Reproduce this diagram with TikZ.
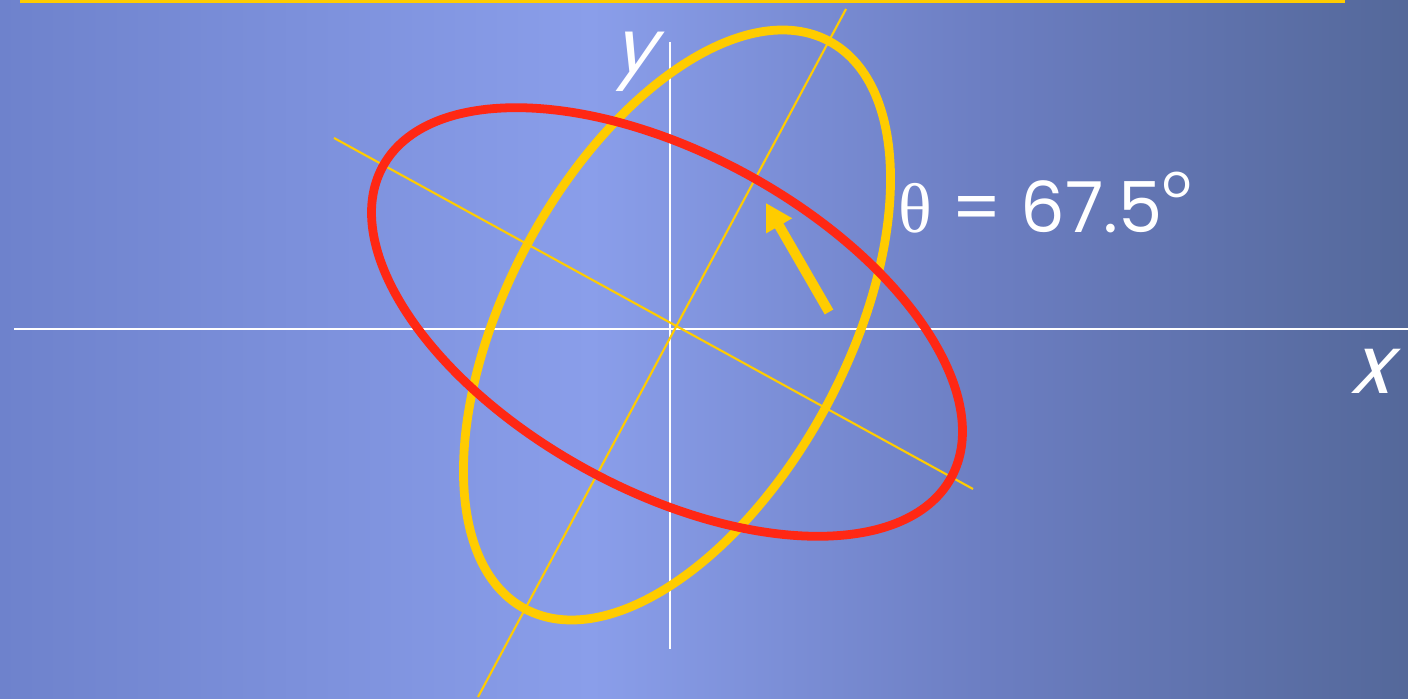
\documentclass[tikz,border=0pt]{standalone}
\usepackage{fontspec}
\usetikzlibrary{arrows.meta}
\newfontfamily\handfont{Poppins}
\newfontfamily\slantfont[FakeSlant=0.3]{Poppins}
\newfontfamily\greekfont{Liberation Serif}
\definecolor{bgA}{RGB}{110,130,204}
\definecolor{bgB}{RGB}{138,158,234}
\definecolor{bgC}{RGB}{108,126,194}
\definecolor{bgD}{RGB}{84,104,154}
\definecolor{ringyellow}{RGB}{255,204,0}
\definecolor{ringred}{RGB}{255,40,20}
\pgfdeclarehorizontalshading{backdrop}{100bp}{color(0bp)=(bgA); color(25bp)=(bgA); color(46bp)=(bgB); color(60bp)=(bgC); color(75bp)=(bgD); color(100bp)=(bgD)}
\tikzset{
	axisline/.style={white,line width=0.7pt},
	tiltline/.style={ringyellow,line width=0.6pt},
	ring/.style={line width=2.5pt},
	lbl/.style={white,inner sep=0pt}
}
\begin{document}
	\begin{tikzpicture}[x=0.1mm,y=0.1mm]
	    \useasboundingbox (0,0) rectangle (1408,698);
	    \fill[shading=backdrop] (0,0) rectangle (1408,698);
	    \draw[ringyellow,line width=0.9pt] (20,697)--(1345,697);
	    % axes
	    \coordinate (xl) at (14,369);
	    \coordinate (xr) at (1408,369);
	    \coordinate (yt) at (670,656);
	    \coordinate (yb) at (670,49);
	    \draw[axisline] (xl)--(xr);
	    \draw[axisline] (yt)--(yb);
	    \node[lbl,font=\slantfont\fontsize{21}{21}\selectfont] (ylab) at (633,636) {y};
	    \node[lbl,font=\slantfont\fontsize{23}{23}\selectfont] (xlab) at (1370,327) {x};
	    % tilted axes
	    \coordinate (ut) at (846,689);
	    \coordinate (ub) at (478,1);
	    \coordinate (vl) at (334,560);
	    \coordinate (vr) at (973,209);
	    \draw[tiltline] (ut)--(ub);
	    \draw[tiltline] (vl)--(vr);
	    % ellipses
	    \draw[ring,ringyellow] (677,373) ellipse[x radius=322,y radius=170,rotate=61.8];
	    \draw[ring,ringred] (667,376) ellipse[x radius=324,y radius=168,rotate=-28.7];
	    % arrow
	    \coordinate (atail) at (829,386);
	    \coordinate (ahead) at (766,495);
	    \draw[ringyellow,line width=2.8pt,-{Triangle[length=7.5pt,width=8pt]}] (atail)--(ahead);
	    \node[lbl,anchor=base west,font=\handfont\fontsize{20}{24}\selectfont] (ang) at (898,465)
	        {{\greekfont θ} = 67.5\raisebox{0.5em}{\fontsize{13}{13}\selectfont o}};
	\end{tikzpicture}
\end{document}
